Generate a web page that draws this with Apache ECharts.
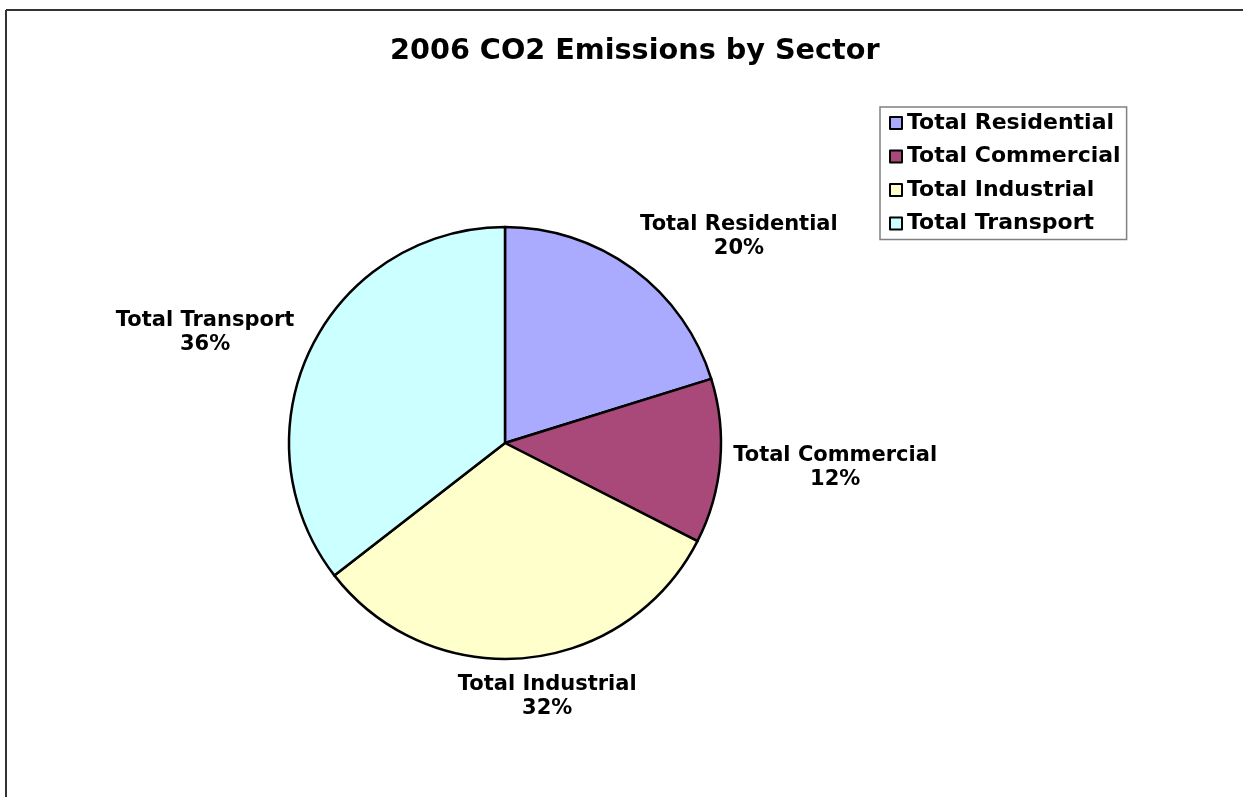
<!DOCTYPE html>
<html><head><meta charset="utf-8">
<script src="https://cdn.jsdelivr.net/npm/echarts@6/dist/echarts.min.js"></script>
<style>html,body{margin:0;padding:0;background:#fff}#c{width:1243px;height:797px}</style>
</head><body><div id="c"></div>
<script>
const categories = ['Total Residential', 'Total Commercial', 'Total Industrial', 'Total Transport'];
const shares = [20.2, 12.3, 32.0, 35.5];
const colors = ['#AAAAFF', '#A8497A', '#FFFFCC', '#CCFFFF'];
const titleText = '2006 CO2 Emissions by Sector';
// small label nudges (pixels) to mimic the original label placement
const labelNudge = [[-11, -16], [-10, 5], [-85, 19], [17, -7]];

const font = '"DejaVu Sans", Verdana, sans-serif';
const chart = echarts.init(document.getElementById('c'), null, {renderer: 'canvas'});
chart.setOption({
  animation: false,
  backgroundColor: '#fff',
  title: {text: titleText, left: 385, top: 32,
    textStyle: {fontFamily: font, fontWeight: 'bold', fontSize: 28.7, color: '#000'}},
  legend: {
    orient: 'vertical', left: 880, top: 107, padding: [5, 6, 5, 9],
    backgroundColor: '#fff', borderColor: '#808080', borderWidth: 1.5, borderRadius: 0,
    itemWidth: 12, itemHeight: 12, itemGap: 11.5, icon: 'rect',
    itemStyle: {borderColor: '#000', borderWidth: 2},
    textStyle: {fontFamily: font, fontWeight: 'bold', fontSize: 22, lineHeight: 22, color: '#000'},
    data: categories
  },
  graphic: [
    {type: 'line', shape: {x1: 6, y1: 10, x2: 1243, y2: 10}, style: {stroke: '#333', lineWidth: 2}},
    {type: 'line', shape: {x1: 6, y1: 10, x2: 6, y2: 797}, style: {stroke: '#333', lineWidth: 2}}
  ],
  series: [{
    type: 'pie', center: [505, 443], radius: 216, startAngle: 90, clockwise: true,
    percentPrecision: 0,
    itemStyle: {borderColor: '#000', borderWidth: 2.5},
    emphasis: {disabled: true},
    label: {
      show: true, position: 'outside', formatter: '{a|{b}\n{d}%}',
      rich: {a: {fontFamily: font, fontWeight: 'bold', fontSize: 21, lineHeight: 24, color: '#000', align: 'center', width: 200}}
    },
    labelLine: {show: false, length: 20, length2: 0},
    labelLayout: function (p) {
      const n = labelNudge[p.dataIndex];
      return {dx: n[0], dy: n[1]};
    },
    data: categories.map((n, i) => ({name: n, value: shares[i], itemStyle: {color: colors[i]}}))
  }]
});
</script></body></html>
